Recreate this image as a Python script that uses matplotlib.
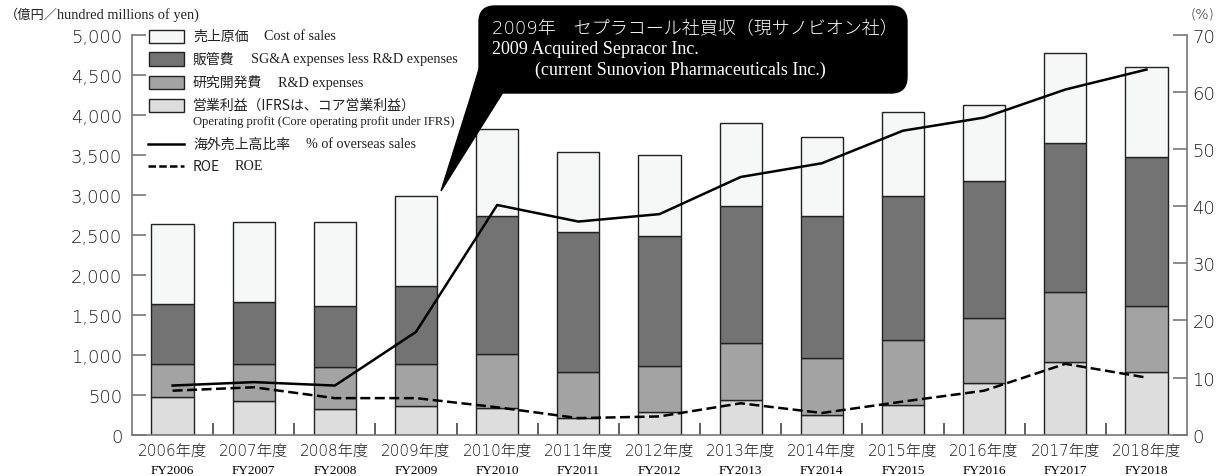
import numpy as np
import matplotlib
matplotlib.use('Agg')
import matplotlib.pyplot as plt
from matplotlib.patches import Rectangle, FancyBboxPatch, Polygon
from matplotlib.lines import Line2D
from matplotlib.transforms import IdentityTransform

plt.rcParams['font.family'] = ['DejaVu Sans', 'Noto Sans CJK JP']
SERIF = ['Liberation Serif', 'DejaVu Serif']
JP = ['Noto Sans CJK JP', 'DejaVu Sans']
NUM = ['DejaVu Sans', 'Noto Sans CJK JP']

# Data
years = ['2006', '2007', '2008', '2009', '2010', '2011', '2012',
         '2013', '2014', '2015', '2016', '2017', '2018']
op_profit = [467, 417, 321, 363, 330, 205, 280, 438, 250, 371, 646, 913, 780]
rnd = [413, 467, 529, 521, 679, 575, 583, 704, 713, 817, 817, 867, 825]
sga = [754, 779, 763, 979, 1721, 1750, 1617, 1713, 1766, 1800, 1712, 1862, 1862]
cost = [1000, 1000, 1042, 1117, 1091, 1004, 1016, 1041, 996, 1050, 946, 1125, 1133]
overseas = [8.6, 9.2, 8.6, 18.0, 40.2, 37.3, 38.6, 45.1, 47.5, 53.2, 55.5, 60.4, 63.9]
roe = [7.7, 8.3, 6.4, 6.4, 4.8, 2.9, 3.2, 5.5, 3.8, 5.8, 7.7, 12.4, 10.0]

c_cost = '#f6f8f7'
c_sga = '#737373'
c_rnd = '#a2a3a2'
c_op = '#dcdddc'
edge = '#222222'
spine_c = '#777777'
txt_c = '#1a1a1a'

W, H = 1224, 477
fig = plt.figure(figsize=(W / 100, H / 100), dpi=100)
ax = fig.add_axes([132 / W, 1 - 435.7 / H, (1187 - 132) / W, 400 / H])
ax2 = ax.twinx()

x = np.arange(len(years))
bw = 0.52
b1 = np.array(op_profit)
b2 = b1 + np.array(rnd)
b3 = b2 + np.array(sga)
kw = dict(width=bw, edgecolor=edge, linewidth=1.0, zorder=2)
ax.bar(x, op_profit, color=c_op, **kw)
ax.bar(x, rnd, bottom=b1, color=c_rnd, **kw)
ax.bar(x, sga, bottom=b2, color=c_sga, **kw)
ax.bar(x, cost, bottom=b3, color=c_cost, **kw)

ax2.plot(x, overseas, color='black', lw=1.8, zorder=5)
ln, = ax2.plot(x, roe, color='black', lw=1.8, zorder=5)
ln.set_dashes([4, 1.8])

ax.set_xlim(-0.5, 12.5)
ax.set_ylim(0, 5000)
ax2.set_ylim(0, 70)

for a in (ax, ax2):
    a.spines['top'].set_visible(False)
    for s in ('left', 'right', 'bottom'):
        a.spines[s].set_color(spine_c)
        a.spines[s].set_linewidth(1.2)
ax.spines['right'].set_visible(False)
ax2.spines['left'].set_visible(False)
ax2.spines['bottom'].set_visible(False)

ax.set_yticks(np.arange(0, 5001, 500))
ax.set_yticklabels([f'{v:,}' for v in range(0, 5001, 500)], fontsize=13,
                   color=txt_c, family=NUM, weight='light')
ax.tick_params(axis='y', direction='in', length=10, width=1.2, color=spine_c, pad=7)
ax2.set_yticks(np.arange(0, 71, 10))
ax2.set_yticklabels([str(v) for v in range(0, 71, 10)], fontsize=13,
                    color=txt_c, family=NUM, weight='light')
ax2.tick_params(axis='y', direction='in', length=10, width=1.2, color=spine_c, pad=4)

ax.set_xticks(x[:-1] + 0.5)
ax.set_xticklabels([])
ax.tick_params(axis='x', direction='in', length=9, width=1.2, color='#444444')

xt = ax.get_xaxis_transform()
for i, y in enumerate(years):
    ax.text(i, -0.04, y + '年度', transform=xt, ha='center', va='center',
            fontsize=11, color=txt_c, family=NUM, weight='light')
    ax.text(i, -0.088, 'FY' + y, transform=xt, ha='center', va='center',
            fontsize=9.5, color='black', family=SERIF)


def fx(px):
    return px / W


def fy(py):
    return 1 - py / H


def chain(t, s, gap, **k):
    return ax.annotate(s, xy=(1, 0.5), xycoords=t, xytext=(gap, 0),
                       textcoords='offset pixels', va='center', ha='left',
                       annotation_clip=False, **k)


# unit labels
t = fig.text(fx(5), fy(15), '（億円／', fontsize=9.5, family=JP, va='center', color='#222222')
chain(t, 'hundred millions of yen)', -1, fontsize=10.4, family=SERIF, color='#222222')
fig.text(fx(1190), fy(15), '(%)', fontsize=10, family=NUM, weight='light',
         va='center', color=txt_c)

# legend
rows = [
    (37, c_cost, '売上原価', 'Cost of sales'),
    (60, c_sga, '販管費', 'SG&A expenses less R&D expenses'),
    (83, c_rnd, '研究開発費', 'R&D expenses'),
    (106, c_op, '営業利益（IFRSは、コア営業利益）', None),
]
for yy, col, jp, en in rows:
    fig.add_artist(Rectangle((fx(149), fy(yy + 6.5)), fx(35), 13 / H,
                             facecolor=col, edgecolor=edge, lw=1.0))
    t = fig.text(fx(193), fy(yy), jp, fontsize=10, family=JP, va='center', color='#222222')
    if en:
        chain(t, en, 16, fontsize=10.2, family=SERIF, color='#222222')
fig.text(fx(193), fy(122), 'Operating profit (Core operating profit under IFRS)',
         fontsize=9.1, family=SERIF, va='center', color='#222222')
fig.add_artist(Line2D([fx(148), fx(184)], [fy(145), fy(145)], color='black', lw=1.8))
l2 = Line2D([fx(148), fx(184)], [fy(167), fy(167)], color='black', lw=1.8)
l2.set_dashes([3, 1.3])
fig.add_artist(l2)
t = fig.text(fx(193), fy(145), '海外売上高比率', fontsize=10, family=JP, va='center', color='#222222')
chain(t, '% of overseas sales', 16, fontsize=10.2, family=SERIF, color='#222222')
t = fig.text(fx(193), fy(167), 'ROE', fontsize=10, family=JP, va='center', color='#222222')
chain(t, 'ROE', 14, fontsize=10.2, family=SERIF, color='#222222')

# callout
idt = IdentityTransform()
box = FancyBboxPatch((479, H - 94), 907 - 479, 87, boxstyle='round,pad=0,rounding_size=16',
                     transform=idt, facecolor='black', edgecolor='black')
fig.add_artist(box)
tail = Polygon([(479, H - 70), (505, H - 90), (441, H - 192), (470, H - 100)],
               closed=True, transform=idt, facecolor='black', edgecolor='black')
fig.add_artist(tail)
fig.text(fx(492), fy(29), '2009年　セプラコール社買収（現サノビオン社）', fontsize=13,
         family=NUM, weight='light', color='white', va='center')
fig.text(fx(492), fy(50), '2009 Acquired Sepracor Inc.', fontsize=13,
         family=SERIF, color='white', va='center')
fig.text(fx(535), fy(70), '(current Sunovion Pharmaceuticals Inc.)', fontsize=13,
         family=SERIF, color='white', va='center')

fig.savefig('out.png', dpi=100)
